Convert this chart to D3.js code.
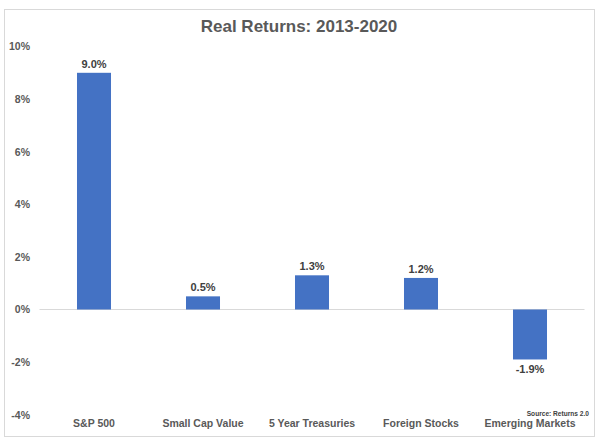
<!DOCTYPE html>
<html>
<head>
<meta charset="utf-8">
<script src="https://cdn.jsdelivr.net/npm/d3@7"></script>
<style>
  html, body { margin: 0; padding: 0; background: #fff; }
  svg { display: block; font-family: "Liberation Sans", Arial, sans-serif; }
</style>
</head>
<body>
<svg id="chart" width="605" height="446"></svg>
<script>
const categories = ["S&P 500", "Small Cap Value", "5 Year Treasuries", "Foreign Stocks", "Emerging Markets"];
const values = [9.0, 0.5, 1.3, 1.2, -1.9];
const valueLabels = ["9.0%", "0.5%", "1.3%", "1.2%", "-1.9%"];
const yTicks = [-4, -2, 0, 2, 4, 6, 8, 10];
const titleText = "Real Returns: 2013-2020";
const sourceText = "Source: Returns 2.0";

const svg = d3.select("#chart");

// frame
svg.append("rect")
  .attr("x", 4.5).attr("y", 9.5)
  .attr("width", 590).attr("height", 427)
  .attr("fill", "#fff")
  .attr("stroke", "#d9d9d9").attr("stroke-width", 1);

const x = d3.scaleBand()
  .domain(categories)
  .range([39.5, 584.5])
  .paddingInner(0.688)
  .paddingOuter(0.344);

const y = d3.scaleLinear()
  .domain([-4, 10])
  .range([414.7, 46.5]);

// title
svg.append("text")
  .attr("x", 299).attr("y", 31.5)
  .attr("text-anchor", "middle")
  .attr("font-size", 17).attr("font-weight", "bold")
  .attr("fill", "#595959")
  .text(titleText);

// y axis tick labels
const yAxis = d3.axisLeft(y).tickValues(yTicks).tickFormat(d => d + "%").tickSize(0).tickPadding(0);
const gy = svg.append("g").attr("transform", "translate(30,0)").call(yAxis);
gy.select(".domain").remove();
gy.selectAll("text")
  .attr("font-size", 10.5)
  .attr("font-family", "Liberation Sans, Arial, sans-serif")
  .attr("font-weight", "bold")
  .attr("fill", "#595959");

// zero line
svg.append("line")
  .attr("x1", 39.5).attr("x2", 584.5)
  .attr("y1", y(0)).attr("y2", y(0))
  .attr("stroke", "#d9d9d9").attr("stroke-width", 1);

// bars
svg.selectAll("rect.bar")
  .data(values)
  .join("rect")
  .attr("class", "bar")
  .attr("x", (d, i) => x(categories[i]))
  .attr("width", x.bandwidth())
  .attr("y", d => y(Math.max(0, d)))
  .attr("height", d => Math.abs(y(d) - y(0)))
  .attr("fill", "#4472C4");

// value labels
svg.selectAll("text.val")
  .data(values)
  .join("text")
  .attr("class", "val")
  .attr("x", (d, i) => x(categories[i]) + x.bandwidth() / 2)
  .attr("y", d => d >= 0 ? y(d) - 5 : y(d) + 13.5)
  .attr("text-anchor", "middle")
  .attr("font-size", 11).attr("font-weight", "bold")
  .attr("fill", "#404040")
  .text((d, i) => valueLabels[i]);

// category labels
const xAxis = d3.axisBottom(x).tickSize(0).tickPadding(0);
const gx = svg.append("g").attr("transform", "translate(0,420)").call(xAxis);
gx.select(".domain").remove();
gx.selectAll("text")
  .attr("font-size", 10.5)
  .attr("font-family", "Liberation Sans, Arial, sans-serif")
  .attr("font-weight", "bold")
  .attr("fill", "#595959");

// source
svg.append("text")
  .attr("x", 589).attr("y", 415.5)
  .attr("text-anchor", "end")
  .attr("font-size", 6.6).attr("font-weight", "bold")
  .attr("fill", "#404040")
  .text(sourceText);
</script>
</body>
</html>
